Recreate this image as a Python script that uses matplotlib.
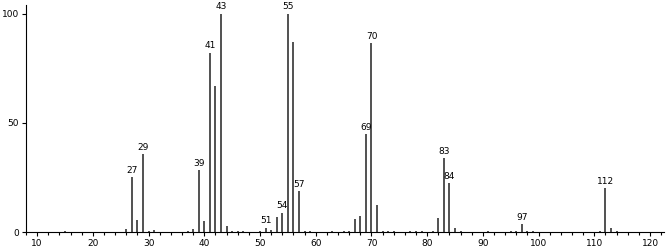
import numpy as np
import matplotlib.pyplot as plt

# m/z e intensidade relativa
mz = [15, 26, 27, 28, 29, 30, 31, 37, 38, 39, 40, 41, 42, 43, 44, 45, 46, 47,
      50, 51, 52, 53, 54, 55, 56, 57, 58, 59, 63, 65, 66, 67, 68, 69, 70, 71,
      72, 73, 74, 77, 78, 79, 81, 82, 83, 84, 85, 86, 91, 95, 96, 97, 98, 99,
      111, 112, 113, 114]
intensity = [0.7, 1.5, 25, 5.5, 35.6, 0.6, 1.0, 0.5, 1.2, 28.3, 5, 82, 67, 100, 3, 0.5, 0.6, 0.6,
             0.5, 2, 1, 7, 8.7, 100, 87, 18.7, 0.7, 0.6, 0.4, 0.6, 0.5, 6, 7.3, 44.7, 86.5, 12.3,
             0.6, 0.5, 0.4, 0.4, 0.5, 0.5, 0.6, 6.4, 33.8, 22.4, 2, 0.6, 0.5, 0.5, 0.6, 3.6, 0.6, 0.4,
             0.5, 20, 1.8, 0.6]
labeled = [27, 29, 39, 41, 43, 51, 54, 55, 57, 69, 70, 83, 84, 97, 112]

fig = plt.figure(figsize=(6.67, 2.49), dpi=100)
ax = fig.add_axes([0.039, 0.068, 0.9565, 0.912])

ax.vlines(mz, 0, intensity, color='#222222', linewidth=1.1)

for m, i in zip(mz, intensity):
    if m in labeled:
        ax.text(m, i + 1.2, str(m), ha='center', va='bottom', fontsize=6.5, color='black')

ax.set_xlim(8, 122.5)
ax.set_ylim(0, 104)
ax.set_xticks(np.arange(10, 121, 10))
ax.set_xticks(np.arange(8, 123, 2), minor=True)
ax.set_yticks([0, 50, 100])

ax.spines['top'].set_visible(False)
ax.spines['right'].set_visible(False)
ax.tick_params(axis='both', labelsize=6.5, length=3, width=0.8, pad=2)
ax.tick_params(axis='x', which='minor', length=2, width=0.8)

fig.savefig('out.png', dpi=100)
